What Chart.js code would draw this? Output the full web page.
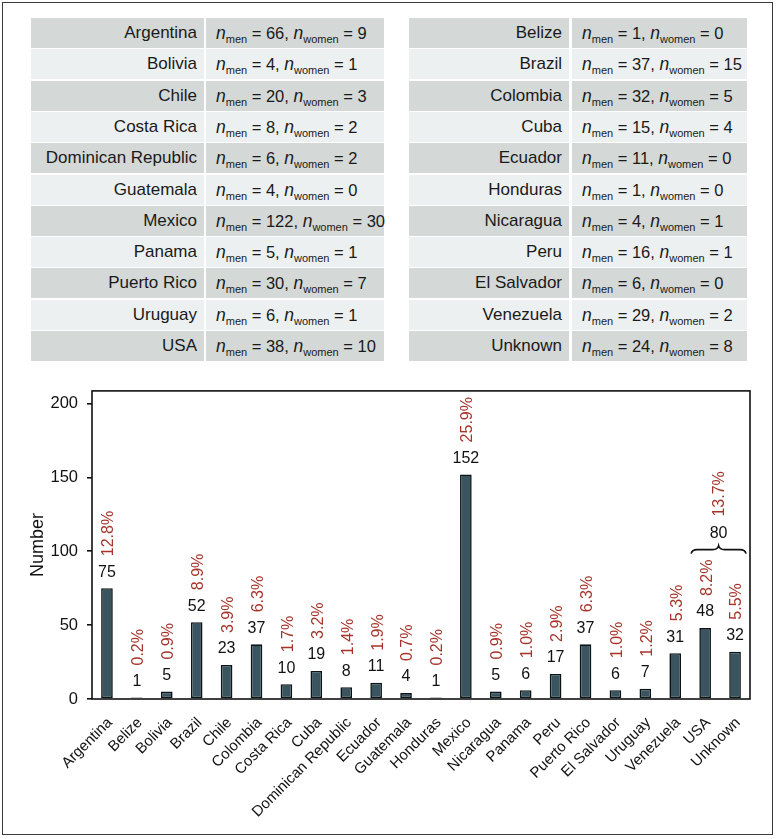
<!DOCTYPE html>
<html>
<head>
<meta charset="utf-8">
<script src="https://cdn.jsdelivr.net/npm/chart.js@4"></script>
<style>
  html, body { margin: 0; padding: 0; background: #fff; }
  body { width: 779px; height: 839px; position: relative; overflow: hidden;
         font-family: "Liberation Sans", Arial, Helvetica, sans-serif; color: #1a1a1a; }
  #frame { position: absolute; left: 2px; top: 2px; width: 771px; height: 833px;
           border: 1.6px solid #3a3a3a; box-sizing: border-box; }
  .cell { position: absolute; height: 30px; line-height: 30px; white-space: nowrap; box-sizing: border-box; }
  .lab { text-align: right; padding-right: 7px; font-size: 17px; }
  .val { text-align: left; padding-left: 10px; font-size: 16.5px; }
  .dark { background: #d4d8d7; }
  .light { background: #edf0f0; }
  .n { font-style: italic; font-size: 17.5px; }
  .sub { font-size: 11px; position: relative; top: 4px; }
  #chartBox { position: absolute; left: 0; top: 372px; width: 779px; height: 460px; }
</style>
</head>
<body>
<div id="frame"></div>
<div id="tables"></div>
<div id="chartBox"><canvas id="c"></canvas></div>
<script>
// ---- Table data ----
const tableLeftCountries = ["Argentina","Bolivia","Chile","Costa Rica","Dominican Republic","Guatemala","Mexico","Panama","Puerto Rico","Uruguay","USA"];
const tableLeftMen      = [66, 4, 20, 8, 6, 4, 122, 5, 30, 6, 38];
const tableLeftWomen    = [9, 1, 3, 2, 2, 0, 30, 1, 7, 1, 10];
const tableRightCountries = ["Belize","Brazil","Colombia","Cuba","Ecuador","Honduras","Nicaragua","Peru","El Salvador","Venezuela","Unknown"];
const tableRightMen      = [1, 37, 32, 15, 11, 1, 4, 16, 6, 29, 24];
const tableRightWomen    = [0, 15, 5, 4, 0, 0, 1, 1, 0, 2, 8];

// ---- Chart data ----
const categories = ["Argentina","Belize","Bolivia","Brazil","Chile","Colombia","Costa Rica","Cuba","Dominican Republic","Ecuador","Guatemala","Honduras","Mexico","Nicaragua","Panama","Peru","Puerto Rico","El Salvador","Uruguay","Venezuela","USA","Unknown"];
const counts = [75, 1, 5, 52, 23, 37, 10, 19, 8, 11, 4, 1, 152, 5, 6, 17, 37, 6, 7, 31, 48, 32];
const percents = ["12.8%","0.2%","0.9%","8.9%","3.9%","6.3%","1.7%","3.2%","1.4%","1.9%","0.7%","0.2%","25.9%","0.9%","1.0%","2.9%","6.3%","1.0%","1.2%","5.3%","8.2%","5.5%"];
const groupMembers = ["USA","Unknown"];
const groupTotal = "80";
const groupPercent = "13.7%";
const yTicks = [0, 50, 100, 150, 200];

// ---- Build tables ----
(function buildTables(){
  const host = document.getElementById('tables');
  function addTable(countries, men, women, labLeft, labW, valLeft, valW){
    countries.forEach((c, i) => {
      const top = 18 + i * 31.3;
      const cls = i % 2 === 0 ? 'dark' : 'light';
      const l = document.createElement('div');
      l.className = 'cell lab ' + cls;
      l.style.left = labLeft + 'px'; l.style.width = labW + 'px'; l.style.top = top + 'px';
      l.textContent = c;
      const v = document.createElement('div');
      v.className = 'cell val ' + cls;
      v.style.left = valLeft + 'px'; v.style.width = valW + 'px'; v.style.top = top + 'px';
      v.innerHTML = '<span class="n">n</span><span class="sub">men</span> = ' + men[i] +
                    ', <span class="n">n</span><span class="sub">women</span> = ' + women[i];
      host.appendChild(l); host.appendChild(v);
    });
  }
  addTable(tableLeftCountries, tableLeftMen, tableLeftWomen, 31, 173, 206, 178);
  addTable(tableRightCountries, tableRightMen, tableRightWomen, 409, 160, 572, 175);
})();

// ---- Chart ----
const FONT = '"Liberation Sans", Arial, Helvetica, sans-serif';
const RED = '#a5352b';

const labelsPlugin = {
  id: 'barLabels',
  afterDatasetsDraw(chart) {
    const ctx = chart.ctx;
    const meta = chart.getDatasetMeta(0);
    const tops = [];
    ctx.save();
    meta.data.forEach((bar, i) => {
      const x = bar.x, top = bar.y;
      ctx.fillStyle = '#111';
      ctx.font = '16px ' + FONT;
      ctx.textAlign = 'center';
      ctx.textBaseline = 'middle';
      ctx.fillText(String(counts[i]), x, top - 16);
      ctx.save();
      ctx.translate(x + 2, top - 32);
      ctx.rotate(-Math.PI / 2);
      ctx.fillStyle = RED;
      ctx.font = '16px ' + FONT;
      ctx.textAlign = 'left';
      ctx.textBaseline = 'middle';
      ctx.fillText(percents[i], 0, 0);
      const w = ctx.measureText(percents[i]).width;
      ctx.restore();
      tops.push(top - 32 - w);
    });
    // group brace
    const idx = groupMembers.map(g => categories.indexOf(g));
    const xa = meta.data[idx[0]].x - 14, xb = meta.data[idx[idx.length - 1]].x + 11;
    const by = Math.min(...idx.map(i => tops[i])) - 10;
    const xm = (xa + xb) / 2;
    ctx.strokeStyle = '#111';
    ctx.lineWidth = 1.6;
    ctx.beginPath();
    ctx.moveTo(xa, by + 4);
    ctx.quadraticCurveTo(xa + 1, by, xa + 6, by);
    ctx.lineTo(xm - 6, by);
    ctx.quadraticCurveTo(xm - 1, by, xm, by - 4);
    ctx.quadraticCurveTo(xm + 1, by, xm + 6, by);
    ctx.lineTo(xb - 6, by);
    ctx.quadraticCurveTo(xb - 1, by, xb, by + 4);
    ctx.stroke();
    ctx.fillStyle = '#111';
    ctx.font = '16px ' + FONT;
    ctx.textAlign = 'center';
    ctx.textBaseline = 'middle';
    ctx.fillText(groupTotal, xm, by - 16);
    ctx.save();
    ctx.translate(xm + 1, by - 33);
    ctx.rotate(-Math.PI / 2);
    ctx.fillStyle = RED;
    ctx.textAlign = 'left';
    ctx.fillText(groupPercent, 0, 0);
    ctx.restore();
    ctx.restore();
  },
  afterDraw(chart) {
    const a = chart.chartArea, ctx = chart.ctx;
    ctx.save();
    ctx.strokeStyle = '#111';
    ctx.lineWidth = 1.6;
    ctx.strokeRect(a.left, a.top, a.right - a.left, a.bottom - a.top);
    ctx.restore();
  }
};

new Chart(document.getElementById('c'), {
  type: 'bar',
  data: {
    labels: categories,
    datasets: [{
      data: counts,
      backgroundColor: '#3a5560',
      borderColor: '#0b1518',
      borderWidth: 1.6,
      borderSkipped: false,
      barPercentage: 0.39,
      categoryPercentage: 1.0
    }]
  },
  options: {
    responsive: true,
    maintainAspectRatio: false,
    animation: false,
    layout: { padding: { left: 27, right: 29, top: 17, bottom: 0 } },
    plugins: { legend: { display: false }, tooltip: { enabled: false } },
    scales: {
      x: {
        offset: true,
        grid: { display: false },
        border: { display: false },
        ticks: {
          autoSkip: false, minRotation: 45, maxRotation: 45, padding: 7, labelOffset: 3,
          color: '#111',
          font: { family: FONT, size: 15 }
        },
        afterFit(s) { s.height = 133; }
      },
      y: {
        min: 0, max: 208.5,
        grid: { drawOnChartArea: false, drawTicks: true, tickLength: 5, color: '#111', lineWidth: 1.6 },
        border: { display: false },
        ticks: { stepSize: 50, padding: 9, color: '#111', font: { family: FONT, size: 16.5 } },
        afterBuildTicks(s) { s.ticks = yTicks.map(v => ({ value: v })); },
        title: { display: true, text: 'Number', color: '#111', font: { family: FONT, size: 18 }, padding: { top: 0, bottom: 4 } },
        afterFit(s) { s.width = 65; }
      }
    }
  },
  plugins: [labelsPlugin]
});
</script>
</body>
</html>
